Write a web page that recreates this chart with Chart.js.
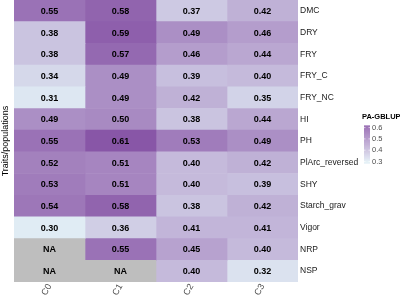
<!DOCTYPE html>
<html>
<head>
<meta charset="utf-8">
<script src="https://cdn.jsdelivr.net/npm/chart.js@4/dist/chart.umd.min.js"></script>
<style>
  html, body { margin: 0; padding: 0; background: #fff; }
  #wrap { width: 400px; height: 297px; position: relative; }
</style>
</head>
<body>
<div id="wrap"><canvas id="heat"></canvas></div>
<script>
// data
const traits = ['DMC', 'DRY', 'FRY', 'FRY_C', 'FRY_NC', 'HI', 'PH', 'PlArc_reversed', 'SHY', 'Starch_grav', 'Vigor', 'NRP', 'NSP'];
const populations = ['C0', 'C1', 'C2', 'C3'];
const c0 = [0.55, 0.38, 0.38, 0.34, 0.31, 0.49, 0.55, 0.52, 0.53, 0.54, 0.30, null, null];
const c1 = [0.58, 0.59, 0.57, 0.49, 0.49, 0.50, 0.61, 0.51, 0.51, 0.58, 0.36, 0.55, null];
const c2 = [0.37, 0.49, 0.46, 0.39, 0.42, 0.38, 0.53, 0.40, 0.40, 0.38, 0.41, 0.45, 0.40];
const c3 = [0.42, 0.46, 0.44, 0.40, 0.35, 0.44, 0.49, 0.42, 0.39, 0.42, 0.41, 0.40, 0.32];
const legendTicks = [0.3, 0.4, 0.5, 0.6];
const fillMin = 0.30, fillMax = 0.61;

const columns = [c0, c1, c2, c3];
const LOW = '#e0ecf4', HIGH = '#8856a7', NA_COL = '#bebebe';
const FONT = '"Liberation Sans", Arial, sans-serif';

// colour helpers (interpolate in Lab like ggplot)
function hex2rgb(h) { return [1, 3, 5].map(i => parseInt(h.substr(i, 2), 16)); }
function rgb2lab(c) {
  let [r, g, b] = c.map(v => { v /= 255; return v > 0.04045 ? Math.pow((v + 0.055) / 1.055, 2.4) : v / 12.92; });
  let x = (r * 0.4124 + g * 0.3576 + b * 0.1805) / 0.95047;
  let y = (r * 0.2126 + g * 0.7152 + b * 0.0722);
  let z = (r * 0.0193 + g * 0.1192 + b * 0.9505) / 1.08883;
  const f = t => t > 0.008856 ? Math.cbrt(t) : 7.787 * t + 16 / 116;
  x = f(x); y = f(y); z = f(z);
  return [116 * y - 16, 500 * (x - y), 200 * (y - z)];
}
function lab2rgb(l) {
  let y = (l[0] + 16) / 116, x = l[1] / 500 + y, z = y - l[2] / 200;
  const fi = t => t * t * t > 0.008856 ? t * t * t : (t - 16 / 116) / 7.787;
  x = fi(x) * 0.95047; y = fi(y); z = fi(z) * 1.08883;
  let r = x * 3.2406 + y * -1.5372 + z * -0.4986;
  let g = x * -0.9689 + y * 1.8758 + z * 0.0415;
  let b = x * 0.0557 + y * -0.2040 + z * 1.0570;
  return [r, g, b].map(v => {
    v = v > 0.0031308 ? 1.055 * Math.pow(v, 1 / 2.4) - 0.055 : 12.92 * v;
    return Math.round(Math.max(0, Math.min(1, v)) * 255);
  });
}
const labLow = rgb2lab(hex2rgb(LOW)), labHigh = rgb2lab(hex2rgb(HIGH));
function fillFor(v) {
  if (v === null) return NA_COL;
  const t = Math.max(0, Math.min(1, (v - fillMin) / (fillMax - fillMin)));
  const c = lab2rgb(labLow.map((a, i) => a + (labHigh[i] - a) * t));
  return 'rgb(' + c.join(',') + ')';
}

const datasets = columns.map((vals, ci) => ({
  label: populations[ci],
  data: traits.map(t => ({ x: [ci, ci + 1], y: t })),
  backgroundColor: vals.map(fillFor),
  borderWidth: 0,
  barPercentage: 1,
  categoryPercentage: 1,
  grouped: false
}));

// value labels inside the tiles
const cellText = {
  id: 'cellText',
  afterDatasetsDraw(chart) {
    const ctx = chart.ctx;
    ctx.save();
    ctx.font = 'bold 9px ' + FONT;
    ctx.fillStyle = '#000';
    ctx.textAlign = 'center';
    ctx.textBaseline = 'middle';
    chart.data.datasets.forEach((ds, di) => {
      chart.getDatasetMeta(di).data.forEach((bar, i) => {
        const v = columns[di][i];
        const p = bar.getProps(['x', 'base', 'y'], true);
        ctx.fillText(v === null ? 'NA' : v.toFixed(2), (p.x + p.base) / 2, p.y + 0.5);
      });
    });
    ctx.restore();
  }
};

// colourbar legend
const colourBar = {
  id: 'colourBar',
  afterDraw(chart) {
    const ctx = chart.ctx;
    const x0 = 364, w = 6, yMin = 161.5, pxPer = 113;
    const yOf = v => yMin - (v - 0.3) * pxPer;
    const top = yOf(fillMax) - 1, bot = yOf(fillMin) + 1.5;
    ctx.save();
    for (let y = top; y < bot; y += 0.5) {
      const v = 0.3 + (yMin - y) / pxPer;
      ctx.fillStyle = fillFor(Math.max(fillMin, Math.min(fillMax, v)));
      ctx.fillRect(x0, y, w, 0.6);
    }
    ctx.strokeStyle = '#fff';
    ctx.lineWidth = 0.6;
    ctx.font = '7.5px ' + FONT;
    ctx.fillStyle = '#4d4d4d';
    ctx.textBaseline = 'middle';
    ctx.textAlign = 'left';
    legendTicks.forEach(t => {
      const y = yOf(t);
      ctx.beginPath();
      ctx.moveTo(x0, y); ctx.lineTo(x0 + 1.5, y);
      ctx.moveTo(x0 + w - 1.5, y); ctx.lineTo(x0 + w, y);
      ctx.stroke();
      ctx.fillText(t.toFixed(1), x0 + w + 2, y);
    });
    ctx.fillStyle = '#000';
    ctx.font = 'bold 7.5px ' + FONT;
    ctx.fillText('PA-GBLUP', 362, 117);
    ctx.restore();
  }
};

new Chart(document.getElementById('heat'), {
  type: 'bar',
  data: { labels: traits, datasets: datasets },
  options: {
    indexAxis: 'y',
    responsive: true,
    maintainAspectRatio: false,
    animation: false,
    layout: { padding: 0 },
    plugins: { legend: { display: false }, tooltip: { enabled: false } },
    scales: {
      x: {
        type: 'linear',
        min: 0,
        max: 4,
        grid: { display: false, drawTicks: false },
        border: { display: false },
        afterBuildTicks(scale) {
          scale.ticks = [0.5, 1.5, 2.5, 3.5].map(v => ({ value: v }));
        },
        afterFit(scale) {
          scale.height = 15;
          scale.paddingLeft = 0; scale.paddingRight = 0;
        },
        ticks: {
          minRotation: 60,
          maxRotation: 60,
          padding: 0,
          color: '#4d4d4d',
          font: { size: 9, family: FONT },
          callback: (v, i) => populations[i]
        }
      },
      y: {
        position: 'right',
        grid: { display: false, drawTicks: false },
        border: { display: false },
        afterFit(scale) {
          scale.width = 102;
          scale.paddingTop = 0; scale.paddingBottom = 0;
        },
        ticks: {
          padding: 2,
          color: '#1a1a1a',
          font: { size: 8.5, family: FONT }
        }
      },
      yTitle: {
        type: 'category',
        labels: traits,
        position: 'left',
        grid: { display: false, drawTicks: false },
        border: { display: false },
        ticks: { display: false },
        afterFit(scale) {
          scale.width = 14;
          scale.paddingTop = 0; scale.paddingBottom = 0;
        },
        title: {
          display: true,
          text: 'Traits/populations',
          color: '#000',
          padding: 0,
          font: { size: 9, family: FONT }
        }
      }
    }
  },
  plugins: [cellText, colourBar]
});
</script>
</body>
</html>
